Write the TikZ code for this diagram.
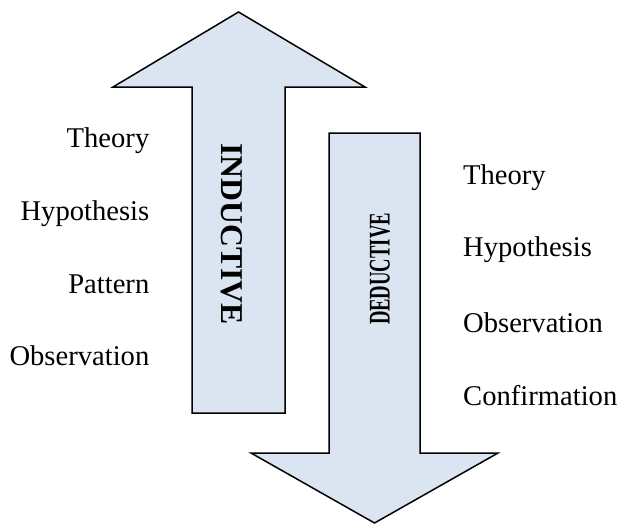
\documentclass[tikz,border=0pt]{standalone}
\usepackage{fontspec}
\setmainfont{Liberation Serif}
\definecolor{arrowfill}{HTML}{DBE5F1}
\begin{document}
\begin{tikzpicture}[x=1pt,y=-1pt,
  arrowshape/.style={draw=black,fill=arrowfill,line width=1.5pt,line join=miter},
  lbl/.style={inner sep=0pt,font=\fontsize{28.6}{30}\selectfont},
  bigword/.style={inner sep=0pt,font=\bfseries}]
\useasboundingbox (0,0) rectangle (622,525);
% up arrow (inductive)
\draw[arrowshape] (238.5,12) -- (365,87) -- (285,87) -- (285,413) -- (192,413) -- (192,87) -- (113,87) -- cycle;
% down arrow (deductive)
\draw[arrowshape] (374.5,523) -- (498,453) -- (420,453) -- (420,133) -- (329,133) -- (329,453) -- (251,453) -- cycle;
% rotated words
\node[bigword,rotate=-90,anchor=base] (ind) at (221.7,234) {\fontsize{31.75}{33}\selectfont INDUCTIVE};
\node[bigword,rotate=90,anchor=base] (ded) at (389.5,269) {\scalebox{0.622}[1]{\fontsize{30}{32}\selectfont\bfseries DEDUCTIVE}};
% left labels
\node[lbl,anchor=base east] (l1) at (149.5,147) {Theory};
\node[lbl,anchor=base east] (l2) at (149.5,220) {Hypothesis};
\node[lbl,anchor=base east] (l3) at (149.5,293) {Pattern};
\node[lbl,anchor=base east] (l4) at (149.5,365) {Observation};
% right labels
\node[lbl,anchor=base west] (r1) at (463,184) {Theory};
\node[lbl,anchor=base west] (r2) at (463,256) {Hypothesis};
\node[lbl,anchor=base west] (r3) at (463,332) {Observation};
\node[lbl,anchor=base west] (r4) at (463,405) {Confirmation};
\end{tikzpicture}
\end{document}
